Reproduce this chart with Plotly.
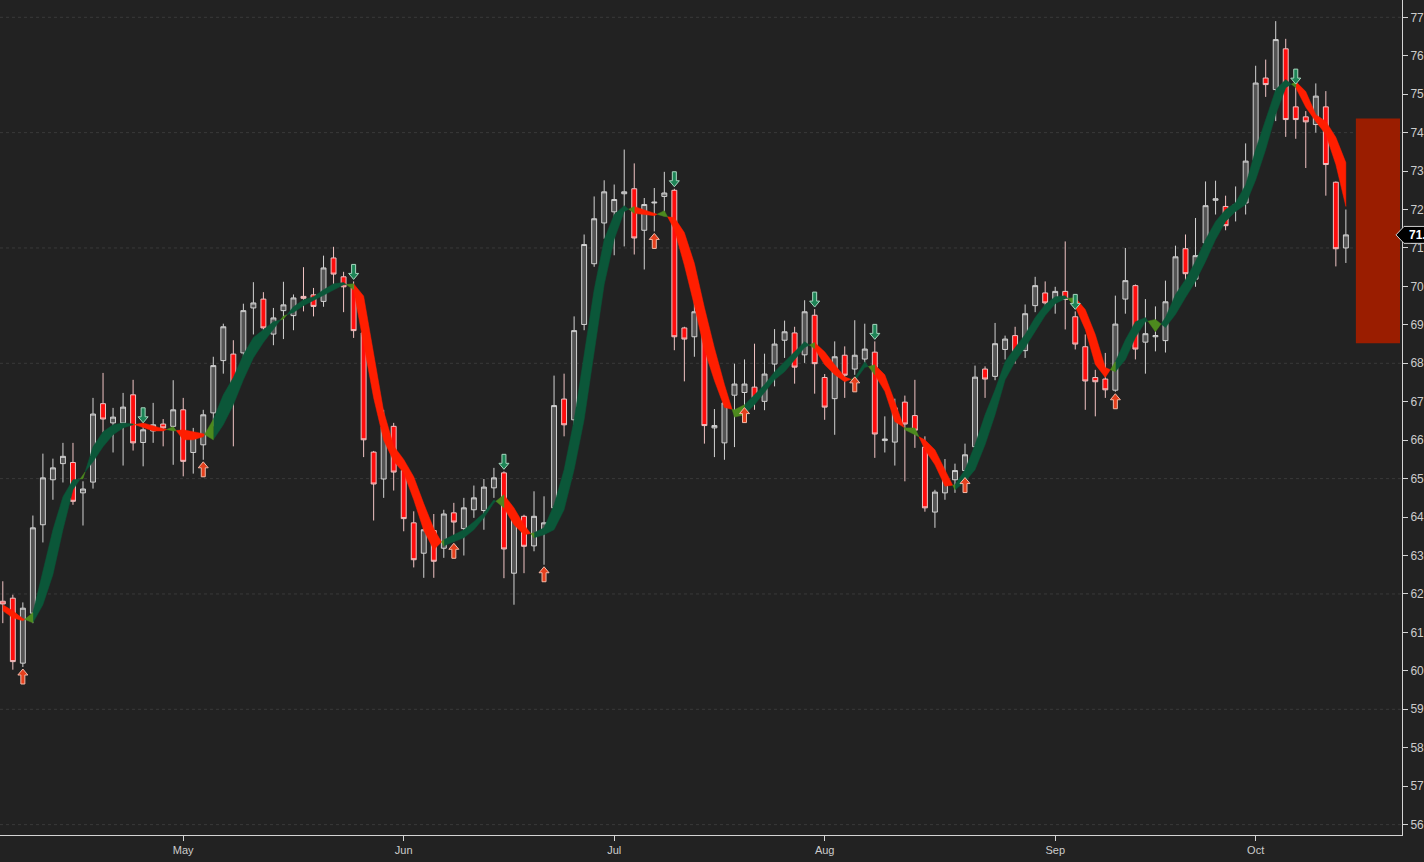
import numpy as np
import pandas as pd
import plotly.graph_objects as go

# daily bars 5 Apr - 12 Oct (no Memorial Day / 4th of July bars)
holidays = ['2018-05-28', '2018-07-04']
dates = pd.bdate_range('2018-04-05', '2018-10-12')
dates = dates[~dates.isin(pd.to_datetime(holidays))]

opens = [61.81, 61.89, 60.20, 61.50, 63.80, 64.97, 65.39, 65.42, 64.63, 64.91,
         66.95, 66.45, 66.45, 67.18, 65.94, 66.24, 66.42, 66.36, 66.79, 65.68,
         65.88, 66.71, 68.07, 68.24, 68.27, 69.44, 69.67, 68.76, 69.37, 69.24,
         69.74, 69.78, 69.61, 70.74, 70.25, 69.96, 68.79, 65.69, 64.99, 66.36,
         65.21, 63.85, 63.06, 63.65, 63.19, 64.11, 63.70, 64.19, 64.17, 64.76,
         65.15, 62.54, 64.02, 63.25, 63.67, 64.24, 67.07, 66.53, 69.01, 70.59,
         71.65, 71.94, 72.41, 72.54, 71.46, 72.17, 72.34, 72.50, 68.92, 68.69,
         68.83, 66.32, 65.93, 67.17, 67.24, 67.38, 67.01, 67.98, 68.60, 68.79,
         68.22, 69.25, 67.63, 67.08, 68.21, 67.85, 68.11, 68.29, 65.99, 65.95,
         66.99, 66.64, 65.82, 64.13, 64.63, 64.97, 65.21, 65.83, 67.85, 67.66,
         68.36, 68.72, 68.33, 69.50, 69.83, 69.67, 69.87, 69.21, 68.43, 67.63,
         67.59, 67.30, 69.67, 70.02, 68.55, 68.69, 68.59, 69.47, 70.98, 70.19,
         71.13, 72.24, 72.08, 72.02, 72.17, 73.28, 75.42, 75.12, 76.18, 74.67,
         74.41, 74.21, 74.67, 72.71, 71.00]
highs = [62.33, 61.98, 61.78, 64.04, 65.65, 65.52, 65.93, 65.93, 64.93, 67.10,
         67.75, 66.84, 67.23, 67.57, 66.40, 66.97, 66.55, 67.56, 67.10, 66.32,
         66.79, 68.17, 69.03, 68.60, 69.55, 70.11, 69.85, 69.44, 70.12, 69.79,
         70.50, 69.96, 70.80, 71.03, 70.38, 70.13, 68.92, 65.72, 66.79, 66.45,
         65.45, 64.15, 63.85, 64.08, 64.19, 64.37, 64.50, 64.82, 64.99, 65.28,
         65.19, 64.11, 64.06, 64.67, 64.54, 67.68, 67.73, 69.22, 71.35, 72.34,
         72.76, 72.65, 73.56, 73.20, 72.30, 72.56, 72.98, 72.54, 68.95, 69.96,
         69.14, 66.81, 67.21, 67.99, 68.10, 68.51, 68.25, 68.89, 69.11, 68.95,
         69.64, 69.41, 67.72, 68.57, 68.44, 69.12, 69.03, 68.57, 66.62, 67.08,
         67.16, 67.57, 66.10, 64.71, 65.51, 65.39, 65.91, 67.94, 67.92, 69.05,
         68.72, 68.95, 69.53, 70.25, 70.13, 69.99, 71.17, 69.35, 68.75, 67.83,
         68.27, 69.76, 71.00, 70.05, 69.67, 69.48, 70.15, 71.06, 71.35, 71.78,
         72.73, 72.75, 72.36, 72.60, 73.72, 75.74, 75.90, 76.90, 76.44, 75.21,
         74.56, 75.28, 75.08, 72.73, 72.00]
lows = [61.24, 60.03, 60.10, 61.24, 63.34, 64.45, 64.90, 64.32, 63.78, 64.74,
        66.20, 65.68, 65.34, 65.73, 65.32, 65.93, 65.84, 65.36, 65.06, 65.13,
        65.49, 66.36, 67.73, 65.84, 68.05, 68.75, 68.66, 68.47, 68.63, 68.86,
        69.35, 69.22, 69.47, 69.96, 69.33, 68.66, 65.56, 63.91, 64.50, 64.69,
        63.63, 62.69, 62.42, 62.42, 62.94, 63.37, 63.00, 63.98, 63.67, 64.50,
        62.41, 61.72, 62.54, 63.11, 62.76, 64.02, 66.10, 66.04, 68.86, 70.51,
        71.24, 70.81, 71.04, 70.83, 70.44, 71.43, 71.95, 68.34, 67.53, 68.17,
        65.91, 65.56, 65.49, 65.82, 66.90, 66.79, 66.78, 67.40, 68.14, 67.47,
        68.01, 67.21, 66.53, 66.14, 67.10, 67.70, 68.01, 65.54, 65.68, 65.34,
        64.93, 65.80, 64.14, 63.72, 64.45, 64.63, 65.08, 65.75, 67.10, 67.56,
        68.10, 67.99, 68.14, 69.33, 69.40, 69.29, 68.88, 68.36, 66.79, 66.62,
        67.10, 67.26, 69.29, 68.10, 67.73, 68.31, 68.28, 69.35, 70.05, 69.99,
        71.04, 71.87, 71.46, 71.69, 71.87, 72.95, 74.93, 74.30, 73.89, 73.84,
        73.08, 74.00, 72.36, 70.52, 70.61]
closes = [61.74, 60.24, 61.63, 63.72, 65.02, 65.28, 65.58, 64.41, 64.73, 66.68,
          66.55, 66.60, 66.86, 65.93, 66.27, 66.40, 66.32, 66.79, 65.45, 66.14,
          66.66, 67.94, 68.95, 67.29, 69.37, 69.57, 68.92, 69.18, 69.52, 69.70,
          69.69, 69.48, 70.48, 70.32, 69.99, 68.85, 66.01, 64.86, 66.34, 65.17,
          63.96, 62.89, 63.67, 62.85, 64.08, 63.87, 64.24, 64.50, 64.78, 65.02,
          63.17, 64.00, 63.24, 64.02, 63.85, 66.90, 66.40, 68.85, 71.09, 71.76,
          72.46, 72.26, 72.46, 71.26, 72.13, 72.19, 72.43, 68.69, 68.63, 69.34,
          66.38, 66.38, 66.97, 67.46, 67.46, 67.10, 67.72, 68.50, 68.82, 67.90,
          69.34, 67.99, 66.86, 68.17, 67.69, 68.21, 68.37, 66.16, 66.03, 66.84,
          66.42, 66.26, 64.24, 64.65, 64.99, 65.21, 65.62, 67.64, 67.59, 68.51,
          68.63, 68.31, 69.29, 70.02, 69.57, 69.87, 69.66, 68.50, 67.54, 67.52,
          67.31, 69.02, 70.15, 68.37, 68.77, 68.72, 69.60, 70.77, 70.33, 70.80,
          72.10, 72.28, 71.58, 72.13, 73.26, 75.29, 75.25, 76.42, 74.34, 74.34,
          74.28, 74.95, 73.17, 70.98, 71.34]

# two averages forming the trend ribbon
ma_fast = [61.56, 61.38, 61.30, 61.51, 62.63, 63.67, 64.53, 64.97, 65.00, 65.83,
           66.22, 66.40, 66.45, 66.42, 66.32, 66.24, 66.24, 66.35, 66.01, 66.01,
           66.09, 66.54, 67.18, 67.63, 68.22, 68.67, 68.88, 69.08, 69.15, 69.47,
           69.65, 69.73, 69.91, 70.07, 70.10, 69.91, 68.55, 67.10, 66.00, 65.45,
           65.15, 64.45, 63.65, 63.15, 63.41, 63.54, 63.67, 63.88, 64.11, 64.45,
           64.24, 63.80, 63.54, 63.59, 63.72, 64.32, 65.23, 66.53, 68.22, 69.92,
           71.22, 71.87, 72.10, 71.90, 71.87, 71.84, 71.97, 71.48, 70.55, 69.50,
           68.35, 67.55, 66.85, 66.79, 66.92, 67.18, 67.44, 67.78, 68.04, 68.30,
           68.56, 68.38, 67.96, 67.70, 67.52, 67.62, 68.04, 67.70, 67.27, 66.48,
           66.32, 66.32, 65.75, 65.36, 64.80, 64.84, 65.23, 65.88, 66.66, 67.31,
           68.04, 68.41, 68.75, 69.19, 69.53, 69.73, 69.76, 69.47, 68.88, 67.97,
           67.63, 68.04, 68.61, 69.08, 69.19, 68.82, 69.19, 69.79, 70.18, 70.65,
           71.22, 71.69, 72.00, 72.18, 72.64, 73.56, 74.34, 75.12, 75.38, 75.17,
           74.66, 74.29, 73.95, 73.17, 72.08]
ma_slow = [61.72, 61.56, 61.36, 61.25, 61.72, 62.50, 63.67, 64.71, 65.10, 65.44,
           65.83, 66.14, 66.32, 66.40, 66.45, 66.37, 66.30, 66.24, 66.27, 66.22,
           66.17, 66.01, 66.40, 66.92, 67.57, 68.14, 68.54, 68.88, 69.23, 69.32,
           69.50, 69.63, 69.76, 69.91, 70.04, 70.07, 69.75, 68.30, 66.75, 65.85,
           65.50, 65.05, 64.35, 63.70, 63.25, 63.36, 63.46, 63.67, 63.98, 64.37,
           64.58, 64.24, 63.80, 63.46, 63.54, 63.67, 64.19, 65.23, 66.53, 68.22,
           70.04, 71.22, 71.95, 72.08, 72.00, 71.90, 71.82, 71.79, 71.40, 70.60,
           69.45, 68.40, 67.45, 66.60, 66.66, 66.92, 67.23, 67.57, 67.78, 68.09,
           68.41, 68.54, 68.30, 67.96, 67.65, 67.54, 67.89, 67.96, 67.70, 67.00,
           66.27, 66.14, 66.01, 65.75, 65.23, 64.71, 64.92, 65.23, 65.88, 66.66,
           67.57, 68.04, 68.41, 68.83, 69.24, 69.55, 69.68, 69.71, 69.40, 68.75,
           67.89, 67.78, 68.09, 68.67, 69.08, 69.14, 68.93, 69.27, 69.71, 70.13,
           70.65, 71.22, 71.69, 71.95, 72.13, 72.77, 73.56, 74.47, 75.17, 75.33,
           75.07, 74.47, 74.29, 73.88, 73.22]

trend_starts = [0, 3, 13, 21, 35, 44, 50, 53, 63, 74, 81, 85, 87, 95, 107, 111, 129]
trend_dirs = ['down', 'up', 'down', 'up', 'down', 'up', 'down', 'up', 'down',
              'up', 'down', 'up', 'down', 'up', 'down', 'up', 'down']

buy_signals = [2, 20, 45, 54, 65, 74, 85, 96, 111]
sell_signals = [14, 35, 50, 67, 81, 87, 107, 129]

zone_low, zone_high = 68.52, 74.37

BG = '#222222'
RIBBON = {'up': '#0b5739', 'down': '#ff1e00', 'mixed': '#4d8a1e'}

x = np.arange(len(dates))
trend = [None] * len(x)
for s, d in zip(trend_starts, trend_dirs):
    for k in range(s, len(x)):
        trend[k] = d

# split the ribbon where the averages cross, colour each piece
pieces = []
for i in range(len(x) - 1):
    a0, b0, a1, b1 = ma_fast[i], ma_slow[i], ma_fast[i + 1], ma_slow[i + 1]
    d0, d1 = a0 - b0, a1 - b1
    if d0 * d1 < 0:
        t = d0 / (d0 - d1)
        yc = a0 + t * (a1 - a0)
        segs = [((i, a0, b0), (i + t, yc, yc), d0), ((i + t, yc, yc), (i + 1, a1, b1), d1)]
    else:
        segs = [((i, a0, b0), (i + 1, a1, b1), d0 + d1)]
    for p, q, d in segs:
        if d > 0 and trend[i] == 'up':
            c = 'up'
        elif d < 0 and trend[i] == 'down':
            c = 'down'
        else:
            c = 'mixed'
        pieces.append((c, p, q))

polys = {k: ([], []) for k in RIBBON}


def flush(c, pts):
    xs, ys = polys[c]
    xs.extend([p[0] for p in pts] + [p[0] for p in reversed(pts)] + [None])
    ys.extend([p[1] for p in pts] + [p[2] for p in reversed(pts)] + [None])


run_c, run_pts = None, []
for c, p, q in pieces:
    if c == run_c and run_pts[-1] == p:
        run_pts.append(q)
    else:
        if run_c:
            flush(run_c, run_pts)
        run_c, run_pts = c, [p, q]
flush(run_c, run_pts)

fig = go.Figure()
for c in ['up', 'down', 'mixed']:
    xs, ys = polys[c]
    fig.add_trace(go.Scatter(x=xs, y=ys, mode='lines', fill='toself', fillcolor=RIBBON[c],
                             line=dict(color=RIBBON[c], width=0.5), hoverinfo='skip',
                             showlegend=False))

fig.add_trace(go.Candlestick(x=x, open=opens, high=highs, low=lows, close=closes,
                             increasing=dict(line=dict(color='#d2d2d2', width=1), fillcolor='#545454'),
                             decreasing=dict(line=dict(color='#f0c4c4', width=1), fillcolor='#ff0d0d'),
                             whiskerwidth=0, showlegend=False))

# block arrows (fixed pixel size) below the low / above the high of signal bars
UP_ARROW = 'M 0,-2 L 5,-8 L 2,-8 L 2,-17 L -2,-17 L -2,-8 L -5,-8 Z'
DOWN_ARROW = 'M 0,2 L 5,8 L 2,8 L 2,17 L -2,17 L -2,8 L -5,8 Z'
for idx, price, path, col, edge in [(buy_signals, lows, UP_ARROW, '#e5401d', '#f3b9a8'),
                                     (sell_signals, highs, DOWN_ARROW, '#1d8456', '#a8d8c0')]:
    for i in idx:
        fig.add_shape(type='path', xsizemode='pixel', ysizemode='pixel', xanchor=i, yanchor=price[i],
                      xref='x', yref='y', path=path, fillcolor=col,
                      line=dict(color=edge, width=1), layer='above')

for v in range(56, 78, 3):
    fig.add_hline(y=v, line=dict(color='#3a3a3a', width=1, dash='dot'), layer='below')

fig.add_shape(type='rect', x0=135.0, x1=139.4, y0=zone_low, y1=zone_high,
              fillcolor='#9a1d00', line_width=0, layer='below')

# last price tag on the price scale
last = closes[-1]
px = 1 / 1402
fig.add_shape(type='path', xref='paper', yref='y',
              path=f'M {1 - 6 * px},{last} L {1 + 2 * px},{last + 0.22} L {1 + 40 * px},{last + 0.22} '
                   f'L {1 + 40 * px},{last - 0.22} L {1 + 2 * px},{last - 0.22} Z',
              fillcolor='#000000', line=dict(color='#d0d0d0', width=1), layer='above')
fig.add_annotation(xref='paper', yref='y', x=1 + 5 * px, y=last, xanchor='left', yanchor='middle',
                   text=f'<b>{last:.2f}</b>', showarrow=False, font=dict(color='#ffffff', size=12))

# month ticks at first bar of each month
month_idx, month_lbl = [], []
for k in range(1, len(dates)):
    if dates[k].month != dates[k - 1].month:
        month_idx.append(k)
        month_lbl.append(dates[k].strftime('%b'))

fig.update_layout(
    width=1424, height=862,
    margin=dict(l=0, r=22, t=0, b=27),
    paper_bgcolor=BG, plot_bgcolor=BG,
    showlegend=False,
    font=dict(family='Liberation Sans, Arial, sans-serif', color='#cccccc', size=11),
    xaxis=dict(range=[-0.28, 139.6], rangeslider=dict(visible=False), showgrid=False,
               zeroline=False, showline=True, linecolor='#d4d4d4', ticks='outside', ticklen=5,
               tickcolor='#d4d4d4', tickvals=month_idx, ticktext=month_lbl, automargin=False),
    yaxis=dict(side='right', range=[55.73, 77.45], dtick=1, tick0=0, tickformat='.2f',
               showgrid=False, zeroline=False, showline=True, linecolor='#d4d4d4',
               ticks='outside', ticklen=5, tickcolor='#d4d4d4', automargin=False,
               tickfont=dict(size=12)),
)

fig.write_html("out.html", config={'displayModeBar': False},
               post_script="document.body.style.margin='0';document.body.style.overflow='hidden';")
